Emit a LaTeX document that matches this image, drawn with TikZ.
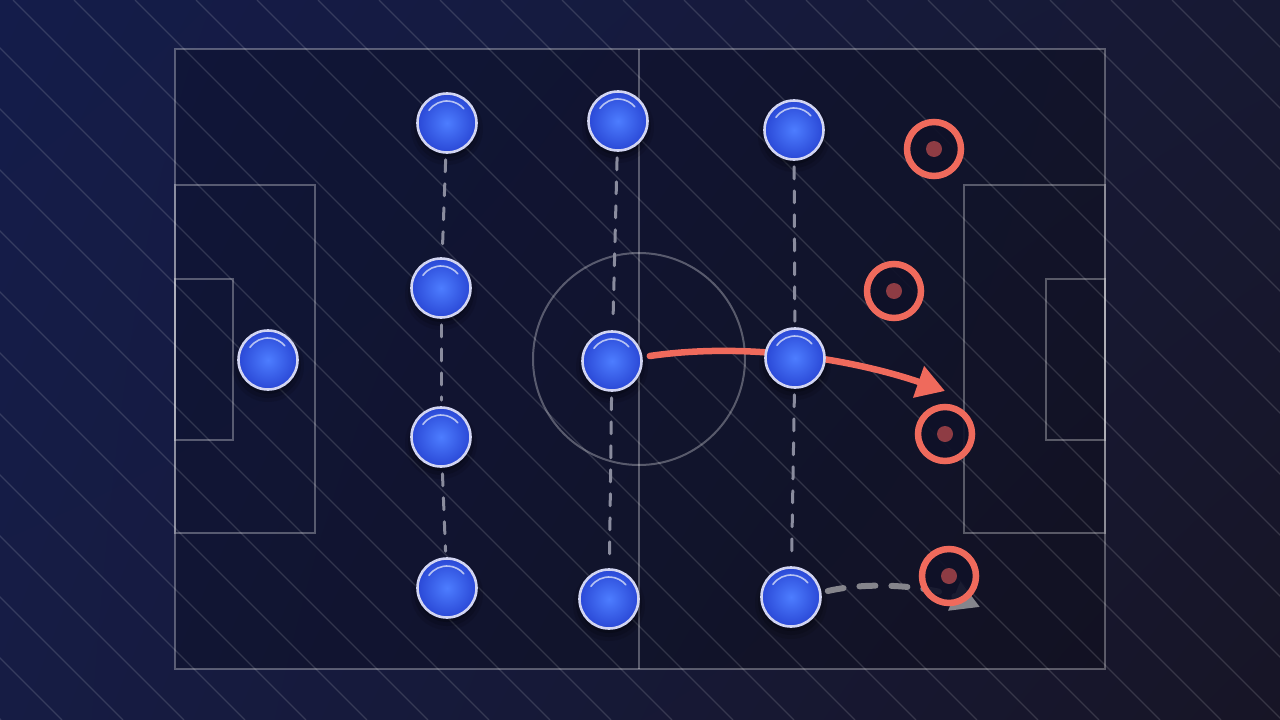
\documentclass[tikz,border=0pt]{standalone}
\usetikzlibrary{arrows.meta,shadings}
\definecolor{bgUL}{HTML}{141C4A}
\definecolor{bgUR}{HTML}{171933}
\definecolor{bgLL}{HTML}{161C44}
\definecolor{bgLR}{HTML}{171526}
\definecolor{plin}{HTML}{4D7DFF}
\definecolor{plout}{HTML}{2A48D6}
\definecolor{plborder}{HTML}{D2D5F2}
\definecolor{tred}{HTML}{EF6A5C}
\definecolor{tdot}{HTML}{8E3C44}
\definecolor{tfill}{HTML}{0F1128}
\definecolor{conn}{HTML}{8A8C9E}
\definecolor{garrow}{HTML}{85858C}
\pgfdeclarelayer{bg}
\pgfdeclarelayer{shadow}
\pgfdeclarelayer{lines}
\pgfsetlayers{bg,shadow,lines,main}
\tikzset{
  stripe/.style={white,opacity=.14,line width=1.3pt},
  pitchline/.style={draw=white,draw opacity=.3,line width=2pt},
  player/.style={circle,minimum size=59pt,inner sep=0pt,draw=plborder,line width=2.6pt,inner color=plin,outer color=plout},
  hl/.style={white,opacity=.65,line width=1.6pt,line cap=round},
  target/.style={circle,minimum size=54pt,inner sep=0pt,draw=tred,line width=6.5pt,fill=tfill,fill opacity=.9},
  vlink/.style={conn,line width=3pt,line cap=round,dash pattern=on 12pt off 12pt,shorten <=6pt,shorten >=6pt},
  runarrow/.style={tred,line width=6.5pt,line cap=round,-{Triangle[length=28pt,width=32pt]}},
  passarrow/.style={garrow,line width=6pt,line cap=round,dash pattern=on 16pt off 16pt,-{Triangle[length=28pt,width=30pt]}},
}
\begin{document}
\begin{tikzpicture}[x=1pt,y=-1pt]
\useasboundingbox (0,0) rectangle (1280,720);
\begin{pgfonlayer}{bg}
  \shade[upper left=bgUL,upper right=bgUR,lower left=bgLL,lower right=bgLR] (0,0) rectangle (1280,720);
  \fill[black,opacity=.2] (175,49) rectangle (1105,669);
  \begin{scope}
    \clip (0,0) rectangle (1280,720);
    \foreach \k in {-12,...,21}{
      \pgfmathsetmacro\c{13+61*\k}
      \draw[stripe] (\c,0) -- ++(720,720);
    }
  \end{scope}
  % pitch markings
  \draw[pitchline] (175,49) rectangle (1105,669);
  \draw[pitchline] (639,49) -- (639,669);
  \draw[pitchline] (639,359) circle[radius=106pt];
  \draw[pitchline] (175,185) rectangle (315,533);
  \draw[pitchline] (175,279) rectangle (233,440);
  \draw[pitchline] (964,185) rectangle (1105,533);
  \draw[pitchline] (1046,279) rectangle (1105,440);
\end{pgfonlayer}

% players
\node[player] (p1)  at (268,360) {};
\node[player] (p21) at (447,123) {};
\node[player] (p22) at (441,288) {};
\node[player] (p23) at (441,437) {};
\node[player] (p24) at (447,588) {};
\node[player] (p31) at (618,121) {};
\node[player] (p32) at (612,361) {};
\node[player] (p33) at (609,599) {};
\node[player] (p41) at (794,130) {};
\node[player] (p42) at (795,358) {};
\node[player] (p43) at (791,597) {};

\foreach \n in {p1,p21,p22,p23,p24,p31,p32,p33,p41,p42,p43}{
  \draw[hl] ([shift={(145:22pt)}]\n.center) arc[start angle=145,end angle=40,radius=22pt];
  \begin{pgfonlayer}{shadow}
    \fill[black,opacity=.10] ([yshift=-6pt]\n.center) circle[radius=36pt];
    \fill[black,opacity=.14] ([yshift=-5pt]\n.center) circle[radius=33pt];
    \fill[black,opacity=.20] ([yshift=-4pt]\n.center) circle[radius=30pt];
  \end{pgfonlayer}
}

% free ends of the arrows
\coordinate (runend) at (945,391);
\coordinate (passend) at (980,607);

\begin{pgfonlayer}{lines}
  \draw[vlink] (p21) -- (p22);
  \draw[vlink] (p22) -- (p23);
  \draw[vlink] (p23) -- (p24);
  \draw[vlink] (p31) -- (p32);
  \draw[vlink] (p32) -- (p33);
  \draw[vlink] (p41) -- (p42);
  \draw[vlink] (p42) -- (p43);
  \draw[runarrow] ([shift={(7,-5)}]p32.east) .. controls (760,340) and (870,365) .. (runend);
  \draw[passarrow] ([shift={(6,-6)}]p43.east) .. controls (875,580) and (935,588) .. (passend);
\end{pgfonlayer}

% opponents
\node[target] (r1) at (934,149) {};
\node[target] (r2) at (894,291) {};
\node[target] (r3) at (945,434) {};
\node[target] (r4) at (949,576) {};
\foreach \n in {r1,r2,r3,r4}{
  \fill[tdot] (\n.center) circle[radius=8pt];
}
\end{tikzpicture}
\end{document}
